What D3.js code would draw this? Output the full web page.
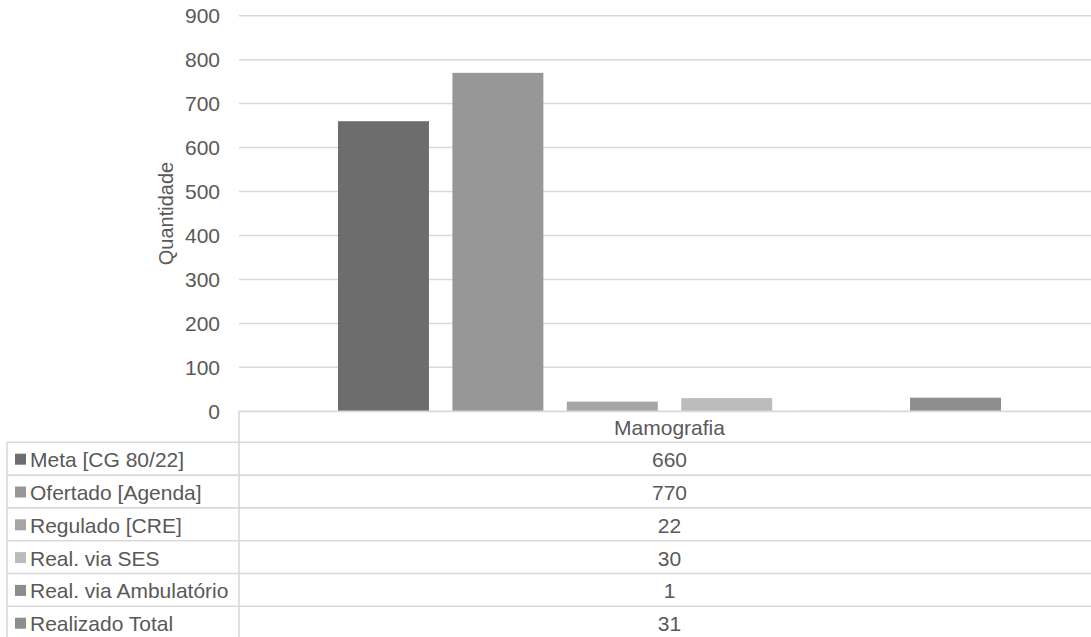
<!DOCTYPE html>
<html>
<head>
<meta charset="utf-8">
<script src="https://cdn.jsdelivr.net/npm/d3@7"></script>
<style>
html,body{margin:0;padding:0;background:#fff;overflow:hidden;}
svg{display:block;font-family:"Liberation Sans",Arial,sans-serif;}
</style>
</head>
<body>
<svg id="chart" width="1091" height="637"></svg>
<script>
const categories = ["Mamografia"];
const seriesNames = ["Meta [CG 80/22]", "Ofertado [Agenda]", "Regulado [CRE]", "Real. via SES", "Real. via Ambulatório", "Realizado Total"];
const seriesValues = [660, 770, 22, 30, 1, 31];
const seriesColors = ["#6d6d6d", "#979797", "#a5a5a5", "#bcbcbc", "#8c8c8c", "#8e8e8e"];
const yTicks = [0, 100, 200, 300, 400, 500, 600, 700, 800, 900];
const yTitle = "Quantidade";

const svg = d3.select("#chart");
const textColor = "#595959";
const gridColor = "#d9d9d9";

const plotLeft = 239, plotRight = 1100, plotTop = 15.7, plotBottom = 411.3;

const x0 = d3.scaleBand().domain(categories).range([plotLeft, plotRight])
  .paddingInner(0).paddingOuter(0.1493);
const x1 = d3.scaleBand().domain(seriesNames).range([0, x0.bandwidth()])
  .paddingInner(0.205).paddingOuter(0);
const y = d3.scaleLinear().domain([0, 900]).range([plotBottom, plotTop]);

// gridlines
svg.append("g").selectAll("line").data(yTicks.filter(d => d > 0)).join("line")
  .attr("x1", plotLeft).attr("x2", 1091)
  .attr("y1", d => y(d)).attr("y2", d => y(d))
  .attr("stroke", gridColor).attr("stroke-width", 1.5);

// y axis labels
const yAxis = d3.axisLeft(y).tickValues(yTicks).tickSize(0).tickPadding(0);
const ya = svg.append("g").attr("transform", `translate(220,0)`).call(yAxis);
ya.select(".domain").remove();
ya.selectAll("text").attr("fill", textColor).attr("font-size", 21)
  .attr("font-family", "'Liberation Sans',Arial,sans-serif");

// y title
svg.append("text")
  .attr("transform", `translate(166,${(plotTop + plotBottom) / 2}) rotate(-90)`)
  .attr("text-anchor", "middle").attr("dominant-baseline", "central")
  .attr("fill", textColor).attr("font-size", 20).text(yTitle);

// bars
const g = svg.append("g");
categories.forEach((cat, ci) => {
  g.selectAll(null).data(seriesNames).join("rect")
    .attr("x", (s) => x0(cat) + x1(s))
    .attr("width", x1.bandwidth())
    .attr("y", (s, i) => y(seriesValues[i]))
    .attr("height", (s, i) => y(0) - y(seriesValues[i]))
    .attr("fill", (s, i) => seriesColors[i]);
});

// table
const rowTop = 442.3, rowH = 32.8;
const rows = d3.scaleBand().domain(seriesNames).range([rowTop, rowTop + rowH * seriesNames.length]);
const tbl = svg.append("g");
// axis / header top line
tbl.append("line").attr("x1", plotLeft).attr("x2", 1091)
  .attr("y1", y(0)).attr("y2", y(0)).attr("stroke", gridColor).attr("stroke-width", 1.8);
// horizontal row lines
const lineYs = seriesNames.map(s => rows(s)).concat([rows.range()[1]]);
tbl.selectAll(".hl").data(lineYs).join("line")
  .attr("x1", 7).attr("x2", 1091)
  .attr("y1", d => d).attr("y2", d => d)
  .attr("stroke", gridColor).attr("stroke-width", 1.6);
// verticals
tbl.append("line").attr("x1", 7).attr("x2", 7).attr("y1", rowTop).attr("y2", 637)
  .attr("stroke", gridColor).attr("stroke-width", 1.6);
tbl.append("line").attr("x1", plotLeft).attr("x2", plotLeft).attr("y1", y(0)).attr("y2", 637)
  .attr("stroke", gridColor).attr("stroke-width", 1.6);

// header
categories.forEach(cat => {
  tbl.append("text").attr("x", x0(cat) + x0.bandwidth() / 2).attr("y", (y(0) + rowTop) / 2 + 1)
    .attr("text-anchor", "middle").attr("dominant-baseline", "central")
    .attr("fill", textColor).attr("font-size", 21).text(cat);
});

// rows
seriesNames.forEach((s, i) => {
  const cy = rows(s) + rows.bandwidth() / 2 + 1;
  tbl.append("rect").attr("x", 15).attr("y", cy - 6).attr("width", 11).attr("height", 11)
    .attr("fill", seriesColors[i]);
  tbl.append("text").attr("x", 30).attr("y", cy).attr("dominant-baseline", "central")
    .attr("fill", textColor).attr("font-size", 21).text(s);
  categories.forEach(cat => {
    tbl.append("text").attr("x", x0(cat) + x0.bandwidth() / 2).attr("y", cy)
      .attr("text-anchor", "middle").attr("dominant-baseline", "central")
      .attr("fill", textColor).attr("font-size", 21).text(seriesValues[i]);
  });
});
</script>
</body>
</html>
